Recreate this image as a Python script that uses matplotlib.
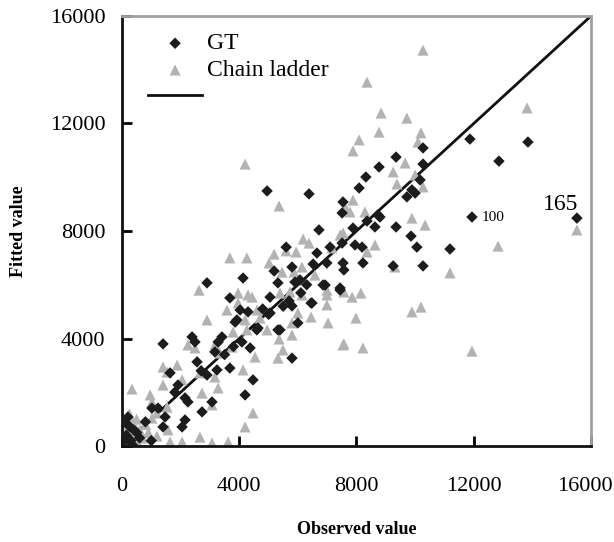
import numpy as np
import matplotlib
matplotlib.use('Agg')
import matplotlib.pyplot as plt
import matplotlib.transforms as mtransforms

plt.rcParams['font.family'] = ['Liberation Serif', 'DejaVu Serif']

# 观测值 / 拟合值 (千)
gt_obs = [15.52, 11.94, 11.87, 13.85, 12.86, 11.19, 10.06, 9.86, 9.35, 8.63,
          8.22, 10.27, 9.25, 7.57, 10.27, 10.27, 10.17, 9.89, 9.72, 10.00,
          9.35, 8.77, 8.32, 8.09, 7.54, 7.51, 8.73, 8.36, 7.88, 7.95,
          8.19, 7.51, 8.80, 4.95, 6.38, 6.72, 5.60, 6.65, 7.10, 5.19,
          5.80, 6.52, 6.99, 7.54, 4.13, 6.07, 6.86, 7.44, 5.05, 2.90,
          3.68, 4.03, 4.30, 3.86, 4.64, 5.39, 1.40, 2.39, 2.49, 3.41,
          3.28, 4.09, 4.37, 3.17, 2.56, 3.68, 3.24, 1.64, 2.90, 1.91,
          2.15, 2.25, 3.07, 1.02, 1.23, 1.47, 2.15, 2.73, 1.40, 2.05,
          0.20, 0.10, 0.27, 4.47, 4.20, 5.80, 6.00, 5.32, 6.45, 7.44,
          6.93, 5.50, 6.10, 4.80, 5.00, 5.70, 6.30, 3.50, 2.70, 1.80,
          0.50, 0.30, 0.80, 0.40, 0.60, 0.15, 1.00, 5.32, 5.90, 6.48,
          5.80, 5.05, 3.92, 4.60, 3.80, 0.05, 0.35]
gt_fit = [8.48, 8.52, 11.42, 11.31, 10.60, 7.33, 7.40, 7.81, 8.15, 8.15,
          6.81, 6.70, 6.70, 6.55, 11.09, 10.49, 9.90, 9.53, 9.27, 9.41,
          10.75, 10.38, 10.01, 9.60, 9.08, 8.67, 8.60, 8.37, 8.11, 7.48,
          7.40, 7.55, 8.52, 9.49, 9.38, 8.04, 7.40, 7.18, 7.40, 6.51,
          6.66, 6.77, 6.81, 6.81, 6.25, 6.18, 5.99, 5.80, 5.54, 6.07,
          5.51, 5.06, 4.99, 4.61, 4.39, 4.32, 3.80, 4.06, 3.87, 4.06,
          3.87, 3.87, 3.65, 3.50, 3.13, 2.90, 2.83, 2.72, 2.64, 2.27,
          1.79, 1.64, 1.64, 1.41, 1.41, 1.08, 0.97, 1.27, 0.71, 0.71,
          1.08, 0.89, 0.71, 2.46, 1.90, 3.27, 4.58, 4.32, 5.32, 5.88,
          5.99, 5.20, 5.70, 5.10, 4.90, 5.40, 6.00, 3.40, 2.80, 2.00,
          0.50, 0.20, 0.90, 0.60, 0.30, 0.40, 0.20, 6.07, 6.10, 5.32,
          5.21, 4.95, 4.69, 4.32, 3.70, 0.15, 0.05]

cl_obs = [8.84, 9.72, 8.77, 8.09, 7.88, 10.20, 10.10, 9.66, 9.25, 9.38,
          10.00, 10.27, 7.88, 7.61, 7.78, 8.29, 9.89, 10.34, 7.54, 10.27,
          8.36, 13.82, 15.52, 12.83, 8.63, 8.36, 11.19, 9.31, 7.57, 7.85,
          8.15, 9.89, 10.20, 7.98, 7.57, 8.22, 11.94, 4.20, 5.36, 7.44,
          6.18, 6.38, 5.94, 5.60, 7.16, 3.68, 4.26, 5.19, 5.02, 5.46,
          5.87, 6.14, 6.58, 4.30, 5.39, 5.73, 6.99, 6.14, 2.63, 3.96,
          4.44, 3.96, 3.58, 4.61, 2.90, 4.20, 4.71, 3.79, 4.26, 4.95,
          2.25, 3.34, 3.75, 5.49, 3.17, 2.49, 1.40, 1.88, 1.54, 2.66,
          3.17, 1.40, 2.05, 2.73, 3.28, 3.07, 0.34, 0.96, 1.02, 1.19,
          1.54, 1.02, 2.66, 3.07, 3.62, 1.57, 1.19, 1.64, 2.05, 4.47,
          4.20, 5.32, 4.54, 4.13, 7.54, 7.03, 6.45, 5.36, 5.80, 5.80,
          6.00, 6.99, 6.99, 0.10, 0.20, 0.30, 0.40, 0.50, 0.60, 0.70,
          0.80, 0.20, 0.35, 0.10, 0.90, 0.50, 0.25, 0.15]
cl_fit = [12.39, 12.20, 11.68, 11.39, 10.98, 11.65, 11.31, 10.53, 10.20, 9.75,
          10.08, 9.64, 9.15, 8.89, 8.71, 8.71, 8.48, 8.22, 7.93, 14.73,
          13.54, 12.58, 8.04, 7.44, 7.48, 7.22, 6.44, 6.66, 5.73, 5.54,
          5.69, 4.99, 5.17, 4.76, 3.80, 3.65, 3.53, 10.49, 8.93, 7.85,
          7.70, 7.55, 7.22, 7.26, 7.37, 7.00, 7.00, 7.14, 6.81, 6.47,
          6.47, 6.66, 6.36, 5.62, 5.69, 5.73, 5.62, 5.62, 5.80, 5.69,
          5.54, 5.32, 5.06, 5.06, 4.69, 4.69, 4.76, 4.24, 4.32, 4.32,
          3.76, 3.46, 3.68, 3.57, 3.76, 3.65, 2.94, 3.01, 2.75, 2.72,
          2.57, 2.27, 2.46, 1.97, 2.16, 1.53, 2.12, 1.90, 1.64, 1.23,
          1.45, 1.04, 0.33, 0.11, 0.15, 0.60, 0.37, 0.15, 0.15, 1.23,
          0.71, 3.27, 3.31, 2.83, 3.76, 4.58, 4.80, 3.98, 4.13, 4.58,
          4.95, 5.25, 5.80, 0.10, 0.30, 0.10, 0.40, 0.20, 0.60, 0.30,
          0.80, 0.70, 0.90, 0.50, 0.50, 1.00, 1.20, 0.20]

ticks = [0, 4000, 8000, 12000, 16000]

fig = plt.figure(figsize=(6.14, 5.42), dpi=100)
ax = fig.add_axes([0.1987, 0.1771, 0.7638, 0.7934])

ax.plot([0, 16000], [0, 16000], color='#111111', lw=2, zorder=1, label=' ')
ax.scatter(np.array(gt_obs) * 1000, np.array(gt_fit) * 1000, marker='D', s=34,
           color='#1c1c1c', edgecolors='none', zorder=3, label='GT')
ax.scatter(np.array(cl_obs) * 1000, np.array(cl_fit) * 1000, marker='^', s=64,
           color='#b3b3b3', edgecolors='none', zorder=2, label='Chain ladder')

ax.text(14350, 9000, '165', fontsize=17, va='center', ha='left')
ax.text(12280, 8520, '100', fontsize=11, va='center', ha='left')

ax.set_xlim(0, 16000)
ax.set_ylim(0, 16000)
ax.set_xticks(ticks)
ax.set_yticks(ticks)
ax.tick_params(direction='in', length=7, width=2, labelsize=16)
ax.tick_params(axis='x', pad=22)
ax.tick_params(axis='y', pad=12)

# 最右边的刻度标签稍微左移, 避免被裁掉
last = ax.get_xticklabels()[-1]
last.set_transform(last.get_transform() +
                   mtransforms.ScaledTranslation(-0.06, 0, fig.dpi_scale_trans))

for s in ['left', 'bottom']:
    ax.spines[s].set_linewidth(2)
    ax.spines[s].set_color('#111111')
for s in ['top', 'right']:
    ax.spines[s].set_linewidth(2)
    ax.spines[s].set_color('#a0a0a0')

ax.set_xlabel('Observed value', fontsize=13, fontweight='bold', labelpad=18)
ax.set_ylabel('Fitted value', fontsize=13, fontweight='bold', labelpad=16)

h, l = ax.get_legend_handles_labels()
ax.legend([h[1], h[2], h[0]], ['GT', 'Chain ladder', ''], loc='upper left',
          bbox_to_anchor=(0.01, 1.01), frameon=False, fontsize=17,
          handlelength=2.3, handletextpad=0.2, labelspacing=0.22,
          scatterpoints=1)

fig.savefig('out.png', dpi=100)
